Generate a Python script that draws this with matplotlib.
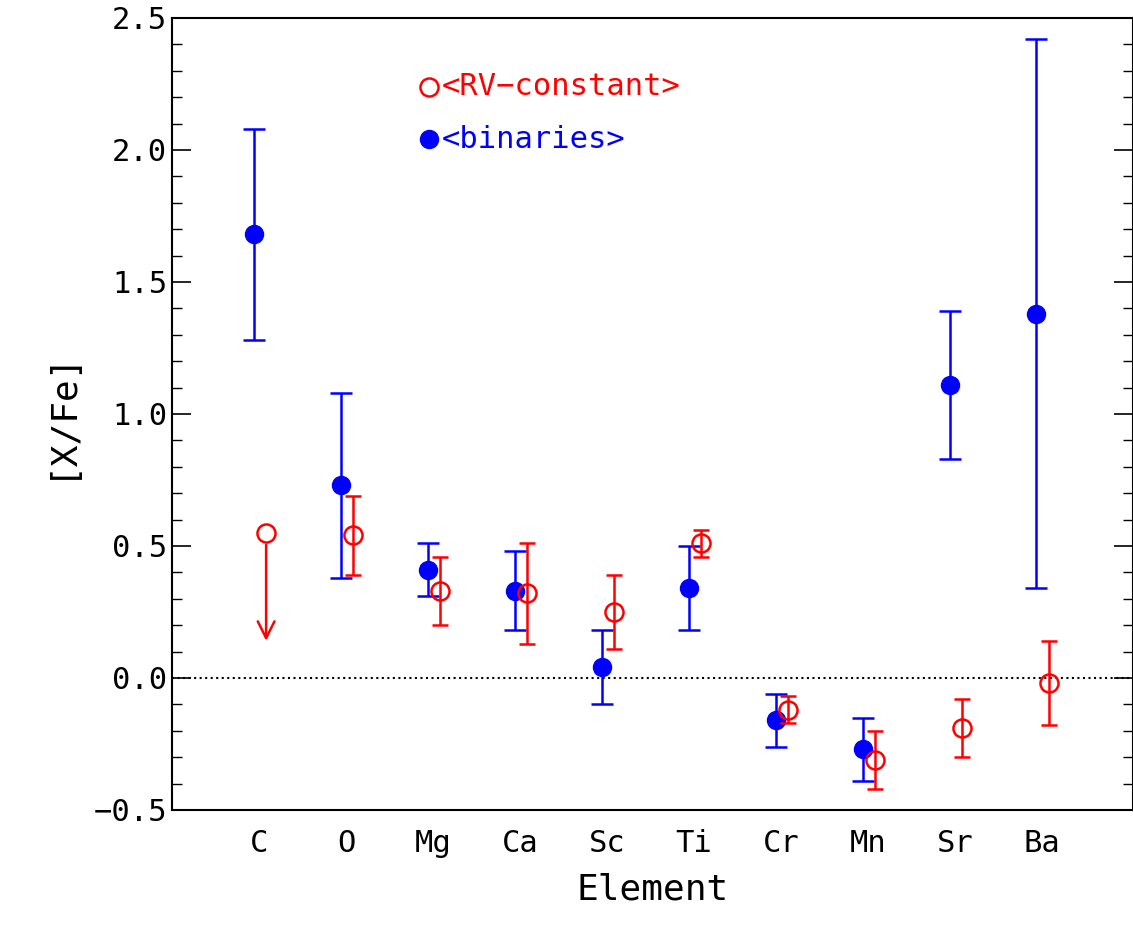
import matplotlib
matplotlib.use("Agg")
import matplotlib.pyplot as plt
import numpy as np

elements = ["C","O","Mg","Ca","Sc","Ti","Cr","Mn","Sr","Ba"]
bin_val = [1.68,0.73,0.41,0.33,0.04,0.34,-0.16,-0.27,1.11,1.38]
bin_lo  = [1.28,0.38,0.31,0.18,-0.10,0.18,-0.26,-0.39,0.83,0.34]
bin_hi  = [2.08,1.08,0.51,0.48,0.18,0.50,-0.06,-0.15,1.39,2.42]
rv_val = [0.55,0.54,0.33,0.32,0.25,0.51,-0.12,-0.31,-0.19,-0.02]
rv_lo  = [None,0.39,0.20,0.13,0.11,0.46,-0.17,-0.42,-0.30,-0.18]
rv_hi  = [None,0.69,0.46,0.51,0.39,0.56,-0.07,-0.20,-0.08,0.14]
c_limit_end = 0.13

plt.rcParams['font.family'] = ['DejaVu Sans Mono']
fig = plt.figure(figsize=(11.33,9.44), dpi=100)
ax = fig.add_axes([0.152, 0.142, 0.848, 0.839])
x = np.arange(len(elements))
xb = x - 0.06; xr = x + 0.08

bv = np.array(bin_val)
ax.errorbar(xb, bv, yerr=[bv-np.array(bin_lo), np.array(bin_hi)-bv], fmt='o', color='blue',
            ms=13, capsize=8, elinewidth=1.8, capthick=1.8, zorder=3)
rv = np.array(rv_val[1:])
ax.errorbar(xr[1:], rv, yerr=[rv-np.array(rv_lo[1:],float), np.array(rv_hi[1:],float)-rv], fmt='o',
            color='red', mfc='none', mew=1.8, ms=13, capsize=6, elinewidth=1.8, capthick=1.8, zorder=4)
ax.plot([xr[0]], [rv_val[0]], 'o', color='red', mfc='none', mew=1.8, ms=13)
ax.annotate('', xy=(xr[0], c_limit_end), xytext=(xr[0], rv_val[0]-0.035),
            arrowprops=dict(arrowstyle='->', color='red', lw=1.8, mutation_scale=30))
ax.axhline(0, color='black', ls=':', lw=1.5)

ax.set_xlim(-1, 10.05)
ax.set_ylim(-0.5, 2.5)
ax.set_xticks(x)
ax.set_xticklabels(elements)
ax.set_yticks(np.arange(-0.5, 2.51, 0.5))
ax.set_yticklabels(['\u22120.5','0.0','0.5','1.0','1.5','2.0','2.5'])
ax.set_yticks(np.arange(-0.5, 2.51, 0.1), minor=True)
ax.tick_params(axis='y', which='both', direction='in', right=True, labelsize=22)
ax.tick_params(axis='y', which='major', length=14, width=1.2)
ax.tick_params(axis='y', which='minor', length=7, width=1.0)
ax.tick_params(axis='x', length=0, labelsize=22, pad=14)
for s in ax.spines.values():
    s.set_linewidth(1.5)
ax.set_xlabel('Element', fontsize=26, labelpad=10)
ax.set_ylabel('[X/Fe]', fontsize=26, labelpad=12)

ax.plot([1.95], [2.24], 'o', color='red', mfc='none', mew=1.8, ms=13)
ax.text(2.1, 2.24, '<RV\u2212constant>', color='red', fontsize=22, va='center')
ax.plot([1.95], [2.04], 'o', color='blue', ms=13)
ax.text(2.1, 2.04, '<binaries>', color='blue', fontsize=22, va='center')

fig.savefig('out.png', dpi=100)
